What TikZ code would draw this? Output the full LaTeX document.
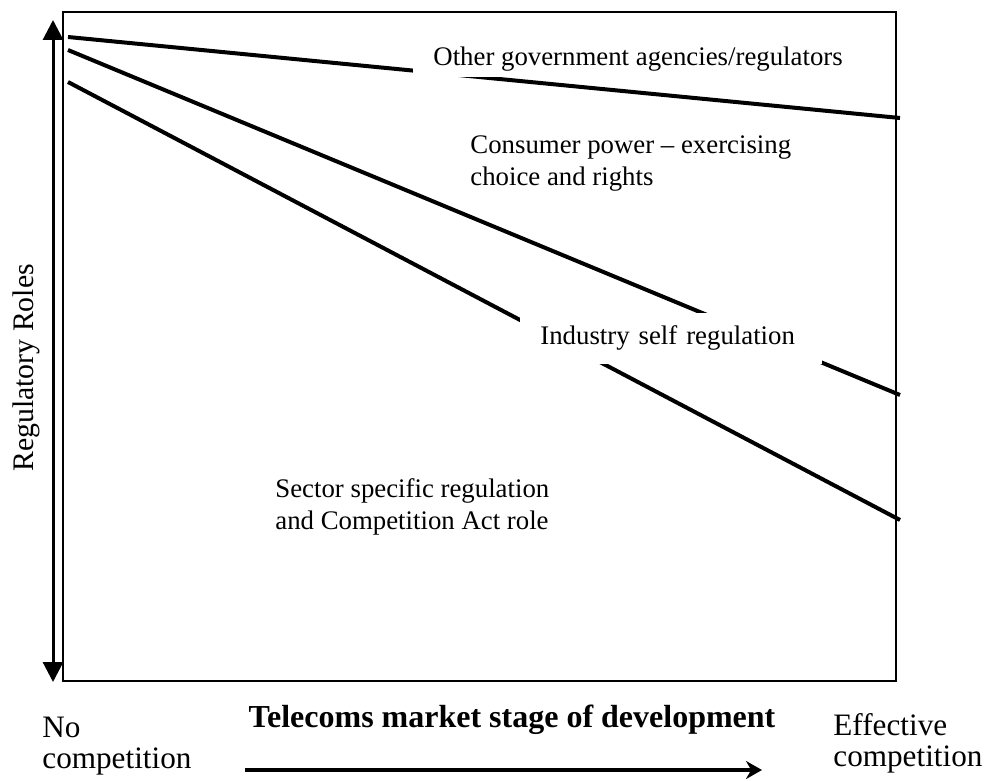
\documentclass[tikz,border=0pt]{standalone}
\usepackage{fontspec}
\setmainfont{Liberation Serif}
\usetikzlibrary{arrows.meta,positioning}

\tikzset{
  role/.style={line width=2pt},
  gap/.style={fill=white, inner sep=0pt},
  lbl/.style={align=left, anchor=west, inner sep=0pt},
  corner/.style={align=left, anchor=base west, inner sep=0pt, font=\fontsize{15.6}{15.5}\selectfont},
}

\begin{document}
\begin{tikzpicture}[x=0.5pt,y=-0.5pt,font=\fontsize{13.4}{16}\selectfont]
\useasboundingbox (0,0) rectangle (988,780);
% frame and the regulatory roles axis
\draw[line width=0.8pt] (63,12) rectangle (896,681);
\draw[line width=1.5pt,{Triangle[width=10pt,length=10pt]}-{Triangle[width=10pt,length=10pt]}] (53,20) -- (53,682);
\node[rotate=90,font=\fontsize{14.9}{16}\selectfont] (roles) at (26,368) {Regulatory Roles};
% dividing lines between the roles
\coordinate (gov0) at (68,37);  \coordinate (gov1) at (900,118);
\coordinate (con0) at (68,50);  \coordinate (con1) at (900,395);
\coordinate (sec0) at (68,82);  \coordinate (sec1) at (900,520);
\draw[role] (gov0) -- (gov1);
\draw[role] (con0) -- (con1);
\draw[role] (sec0) -- (sec1);
% labels, blanking the lines where they cross
\node[gap,anchor=west,inner xsep=10pt,minimum height=18.5pt] (other) at (413,59) {Other government agencies/regulators};
\node[lbl] (consumer) at (470,164) {Consumer power -- exercising\\choice and rights};
\node[gap,anchor=west,inner xsep=10pt,text width=131pt,align=left,minimum height=25.5pt] (industry) at (520,338) {Industry self regulation};
\node[lbl] (sector) at (275,507) {Sector specific regulation\\and Competition Act role};
% market stage axis
\node[corner] (none) at (42,768) {No\\competition};
\node[font={\fontsize{16}{16}\selectfont\bfseries}] (stage) at (512,720) {Telecoms market stage of development};
\node[corner] (effective) at (833,766) {Effective\\competition};
\coordinate (start) at (245,770);
\coordinate (finish) at (762,770);
\draw[line width=2pt,-{Stealth[length=8pt,width=9pt]}] (start) -- (finish);
\end{tikzpicture}
\end{document}
